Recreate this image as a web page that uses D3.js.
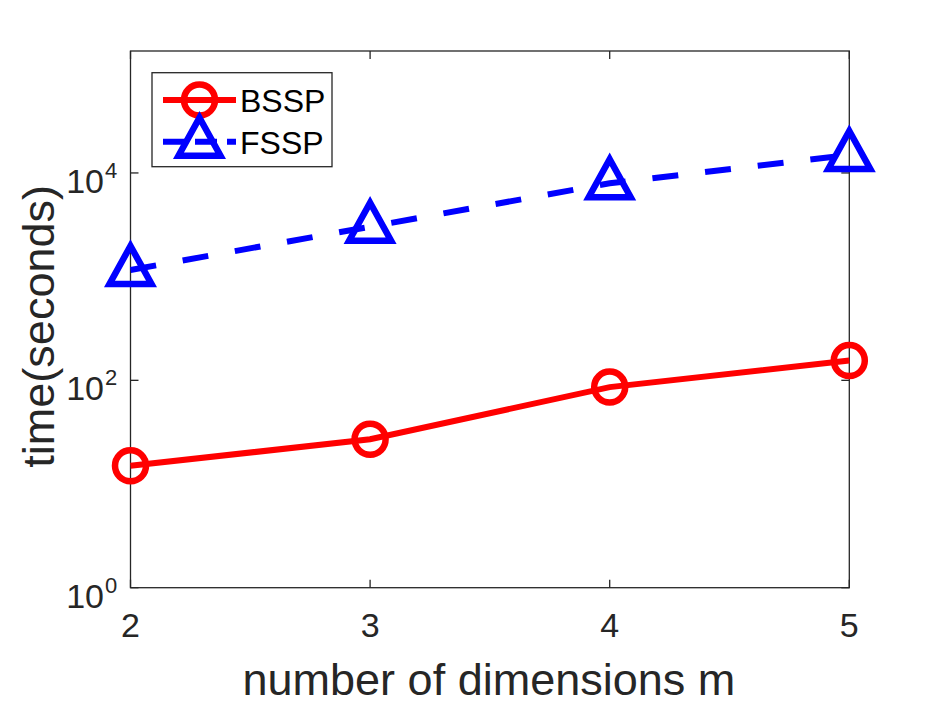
<!DOCTYPE html>
<html>
<head>
<meta charset="utf-8">
<script src="https://cdn.jsdelivr.net/npm/d3@7"></script>
<style>
  body { margin: 0; background: #fff; }
  text { font-family: "Liberation Sans", Arial, Helvetica, sans-serif; fill: #262626; }
</style>
</head>
<body>
<div id="chart"></div>
<script>
// values
const dims = [2, 3, 4, 5];
const bssp = [15, 27, 86, 155];
const fssp = [1160, 3030, 7950, 14900];
const xTicks = [2, 3, 4, 5];
const yTicks = [1, 100, 10000];
const yExp = ["0", "2", "4"];

const width = 938, height = 704;
const plotLeft = 130.5, plotRight = 849.3, plotTop = 51, plotBottom = 587.7;

const svg = d3.select("#chart").append("svg")
    .attr("width", width)
    .attr("height", height);

const x = d3.scaleLinear().domain([2, 5]).range([plotLeft, plotRight]);
const y = d3.scaleLog().domain([1, 1.5e5]).range([plotBottom, plotTop]);

const axisColor = "#262626";

// box
svg.append("rect")
    .attr("x", plotLeft).attr("y", plotTop)
    .attr("width", plotRight - plotLeft).attr("height", plotBottom - plotTop)
    .attr("fill", "none")
    .attr("stroke", axisColor)
    .attr("stroke-width", 1.3);

// ticks, inside on all four sides
const tickLen = 8;
const tickG = svg.append("g").attr("stroke", axisColor).attr("stroke-width", 1.3);
xTicks.forEach(t => {
    tickG.append("line").attr("x1", x(t)).attr("x2", x(t)).attr("y1", plotBottom).attr("y2", plotBottom - tickLen);
    tickG.append("line").attr("x1", x(t)).attr("x2", x(t)).attr("y1", plotTop).attr("y2", plotTop + tickLen);
});
yTicks.forEach(t => {
    tickG.append("line").attr("x1", plotLeft).attr("x2", plotLeft + tickLen).attr("y1", y(t)).attr("y2", y(t));
    tickG.append("line").attr("x1", plotRight).attr("x2", plotRight - tickLen).attr("y1", y(t)).attr("y2", y(t));
});

// x tick labels
svg.selectAll("text.xt")
    .data(xTicks)
    .enter()
    .append("text")
    .attr("class", "xt")
    .attr("x", d => x(d))
    .attr("y", 637)
    .attr("text-anchor", "middle")
    .attr("font-size", 34)
    .text(d => d);

// y tick labels: 10 with exponent
yTicks.forEach((t, i) => {
    const ty = y(t);
    svg.append("text")
        .attr("x", 104)
        .attr("y", ty + 20)
        .attr("text-anchor", "end")
        .attr("font-size", 34)
        .text("10");
    svg.append("text")
        .attr("x", 105)
        .attr("y", ty + 5)
        .attr("font-size", 22)
        .text(yExp[i]);
});

// axis labels
svg.append("text")
    .attr("x", (plotLeft + plotRight) / 2 - 1)
    .attr("y", 695)
    .attr("text-anchor", "middle")
    .attr("font-size", 45)
    .text("number of dimensions m");

svg.append("text")
    .attr("transform", `translate(54, ${(plotTop + plotBottom) / 2 + 7}) rotate(-90)`)
    .attr("text-anchor", "middle")
    .attr("font-size", 45)
    .text("time(seconds)");

// series
const line = d3.line().x(d => x(d[0])).y(d => y(d[1]));
const bsspPts = dims.map((d, i) => [d, bssp[i]]);
const fsspPts = dims.map((d, i) => [d, fssp[i]]);

const plot = svg.append("g");

plot.append("path")
    .attr("d", line(fsspPts))
    .attr("fill", "none")
    .attr("stroke", "#0000ff")
    .attr("stroke-width", 6)
    .attr("stroke-dasharray", "26 27");

plot.append("path")
    .attr("d", line(bsspPts))
    .attr("fill", "none")
    .attr("stroke", "#ff0000")
    .attr("stroke-width", 6);

const triPath = (cx, cy) => `M${cx},${cy - 24}L${cx + 21},${cy + 14}L${cx - 21},${cy + 14}Z`;

plot.selectAll("circle.bssp")
    .data(bsspPts)
    .enter()
    .append("circle")
    .attr("class", "bssp")
    .attr("cx", d => x(d[0]))
    .attr("cy", d => y(d[1]))
    .attr("r", 15.5)
    .attr("fill", "none")
    .attr("stroke", "#ff0000")
    .attr("stroke-width", 6.5);

plot.selectAll("path.fssp")
    .data(fsspPts)
    .enter()
    .append("path")
    .attr("class", "fssp")
    .attr("d", d => triPath(x(d[0]), y(d[1])))
    .attr("fill", "none")
    .attr("stroke", "#0000ff")
    .attr("stroke-width", 6.5)
    .attr("stroke-linejoin", "miter");

// legend
const legend = svg.append("g");
legend.append("rect")
    .attr("x", 152).attr("y", 72.7)
    .attr("width", 180).attr("height", 94)
    .attr("fill", "#fff")
    .attr("stroke", axisColor)
    .attr("stroke-width", 1.3);

const legendRows = [
    { name: "BSSP", color: "#ff0000", dash: null, marker: "circle", y: 100 },
    { name: "FSSP", color: "#0000ff", dash: "22 10", marker: "tri", y: 141.7 }
];

legendRows.forEach(r => {
    legend.append("line")
        .attr("x1", 163).attr("x2", 236)
        .attr("y1", r.y).attr("y2", r.y)
        .attr("stroke", r.color)
        .attr("stroke-width", 6)
        .attr("stroke-dasharray", r.dash);
    if (r.marker === "circle") {
        legend.append("circle")
            .attr("cx", 199.5).attr("cy", r.y).attr("r", 15.5)
            .attr("fill", "none").attr("stroke", r.color).attr("stroke-width", 6.5);
    } else {
        legend.append("path")
            .attr("d", triPath(199.5, r.y))
            .attr("fill", "none").attr("stroke", r.color).attr("stroke-width", 6.5);
    }
    legend.append("text")
        .attr("x", 240)
        .attr("y", r.y + 12)
        .attr("font-size", 32)
        .style("fill", "#000")
        .text(r.name);
});
</script>
</body>
</html>
